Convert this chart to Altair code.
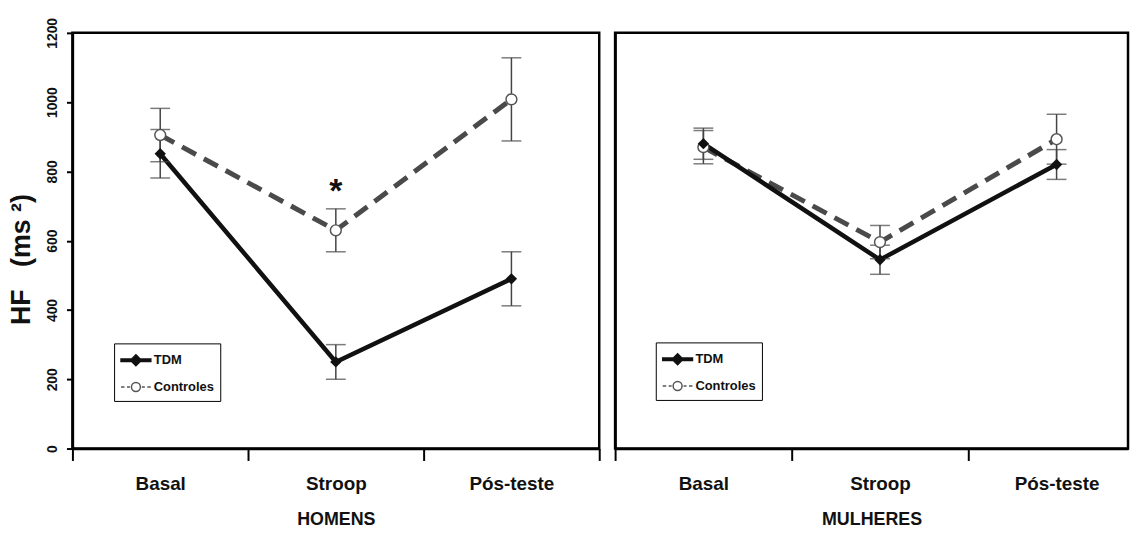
import json

import altair as alt
import pandas as pd

FONT = "Liberation Sans"

phases = ["Basal", "Stroop", "Pós-teste"]
groups = ["TDM", "Controles"]
panels = ["HOMENS", "MULHERES"]

# HF (ms²): mean and error per phase
homens_tdm = [851, 250, 490]
homens_tdm_err = [70, 50, 78]
homens_ctrl = [905, 630, 1008]
homens_ctrl_err = [77, 62, 120]
mulheres_tdm = [880, 545, 820]
mulheres_tdm_err = [45, 42, 43]
mulheres_ctrl = [870, 596, 893]
mulheres_ctrl_err = [48, 48, 72]

# significance markers: (panel, phase, group, symbol)
significance = [("HOMENS", "Stroop", "Controles", "*")]

series = {
    ("HOMENS", "TDM"): (homens_tdm, homens_tdm_err),
    ("HOMENS", "Controles"): (homens_ctrl, homens_ctrl_err),
    ("MULHERES", "TDM"): (mulheres_tdm, mulheres_tdm_err),
    ("MULHERES", "Controles"): (mulheres_ctrl, mulheres_ctrl_err),
}

rows = []
for (panel_name, group), (means, errs) in series.items():
    for i, (phase, m, e) in enumerate(zip(phases, means, errs)):
        rows.append({
            "panel": panel_name, "group": group, "phase": phase,
            "pos": i + 0.5, "value": m, "lo": m - e, "hi": m + e,
        })
data = pd.DataFrame(rows)

marks = []
for panel_name, phase, group, symbol in significance:
    r = data[(data.panel == panel_name) & (data.phase == phase) & (data.group == group)].iloc[0]
    marks.append({"panel": panel_name, "pos": r.pos, "hi": r.hi, "mark": symbol})
marks = pd.DataFrame(marks)

# legend glyphs: line + marker, drawn as custom symbol paths
tdm_glyph = "M-1,-0.13L2,-0.13L2,0.13L-1,0.13Z M0.5,-0.55L1.05,0L0.5,0.55L-0.05,0Z"
ctrl_glyph = ("M-1,0L-0.65,0 M-0.4,0L-0.1,0 M1.1,0L1.4,0 M1.65,0L2,0 "
              "M0.95,0A0.45,0.45,0,1,1,0.05,0A0.45,0.45,0,1,1,0.95,0Z")

label_expr = json.dumps(phases, ensure_ascii=False) + "[datum.value] || ''"

# non-breaking spaces keep the gaps in the SVG title
NBSP = "\u00a0"
Y_TITLE = f"HF{NBSP * 3}(ms{NBSP}²)"

HEIGHT = 419
BAND_LEFT = 531 / 3
WIDTHS = {"HOMENS": 531, "MULHERES": 517}
BAND = {"HOMENS": BAND_LEFT, "MULHERES": 178}
LEGEND_POS = {"HOMENS": (42, 313), "MULHERES": (41, 312)}


def panel(name, first):
    df = data[data.panel == name]
    width = WIDTHS[name]
    band = BAND[name]
    xmax = width / band
    ticks = [v for v in [0, 1, 2, 3] if v <= xmax + 1e-9]
    last = len(phases)

    x_axis = alt.Axis(
        values=ticks, labelExpr=label_expr,
        # phase names sit mid-band; the closing tick keeps its (empty) label on the tick
        labelOffset={"condition": {"test": f"datum.value >= {last}", "value": 0}, "value": band / 2},
        labelFlush=False, labelOverlap=False, labelBound=False,
        tickSize=12, labelPadding=14, labelFontSize=19, labelFontWeight="bold",
        titleFontSize=18, titleFontWeight="bold", titlePadding=18,
    )
    x = alt.X("pos:Q", scale=alt.Scale(domain=[0, xmax], nice=False, zero=False),
              axis=x_axis, title=name)

    if first:
        y_axis = alt.Axis(
            values=list(range(0, 1201, 200)), format="d", tickSize=6, labelAngle=270,
            labelAlign="center", labelBaseline="bottom", labelPadding=7,
            labelFontSize=14, labelFontWeight="bold",
            titleFontSize=27, titleFontWeight="bold", titlePadding=10, titleY=228,
        )
        y_title = Y_TITLE
    else:
        y_axis = alt.Axis(labels=False, ticks=False)
        y_title = None

    def y(field):
        return alt.Y(f"{field}:Q", scale=alt.Scale(domain=[0, 1200], nice=False),
                     axis=y_axis, title=y_title)

    base = alt.Chart(df)
    lx, ly = LEGEND_POS[name]
    legend = alt.Legend(
        orient="none", legendX=lx, legendY=ly, title=None,
        symbolSize=400, symbolStrokeWidth=1.5, symbolOpacity=1,
        labelFont=FONT, labelFontSize=13, labelFontWeight="bold", labelColor="#111",
        labelOffset=12, rowPadding=7, padding=6,
        strokeColor="black", fillColor="white",
    )
    key = base.mark_point(opacity=0).encode(
        x=x, y=y("value"),
        shape=alt.Shape("group:N", scale=alt.Scale(domain=groups, range=[tdm_glyph, ctrl_glyph]), legend=legend),
        fill=alt.Fill("group:N", scale=alt.Scale(domain=groups, range=["#111111", "white"]), legend=legend),
        stroke=alt.Stroke("group:N", scale=alt.Scale(domain=groups, range=["#111111", "#555555"]), legend=legend),
    )

    line_ctrl = base.transform_filter(alt.datum.group == "Controles").mark_line(
        color="#4a4a4a", strokeWidth=5, strokeDash=[16, 9]
    ).encode(x=x, y=y("value"), order="pos:Q")
    line_tdm = base.transform_filter(alt.datum.group == "TDM").mark_line(
        color="#111111", strokeWidth=4.5
    ).encode(x=x, y=y("value"), order="pos:Q")

    bars = base.mark_rule(color="#444444", strokeWidth=1.5).encode(x=x, y=y("lo"), y2="hi:Q")
    caps = base.transform_fold(["lo", "hi"], as_=["end", "cap"]).mark_tick(
        orient="horizontal", size=20, thickness=1.5, color="#444444"
    ).encode(x=x, y=y("cap"))

    pts_ctrl = base.transform_filter(alt.datum.group == "Controles").mark_point(
        shape="circle", size=120, filled=True, fill="white", stroke="#555555",
        strokeWidth=1.5, opacity=1
    ).encode(x=x, y=y("value"))
    pts_tdm = base.transform_filter(alt.datum.group == "TDM").mark_point(
        shape="diamond", size=130, filled=True, color="#111111", opacity=1
    ).encode(x=x, y=y("value"))

    layers = [key, line_ctrl, line_tdm, bars, caps, pts_ctrl, pts_tdm]

    m = marks[marks.panel == name]
    if len(m):
        stars = alt.Chart(m).mark_text(
            font=FONT, fontSize=34, fontWeight="bold", baseline="bottom", color="#111111"
        ).encode(x=x, y=y("hi"), text="mark:N")
        layers.append(stars)

    return alt.layer(*layers).properties(width=width, height=HEIGHT)


chart = (
    alt.hconcat(panel("HOMENS", True), panel("MULHERES", False), spacing=10)
    .resolve_scale(shape="independent", fill="independent", stroke="independent", x="independent")
    .properties(padding={"left": 6, "top": 14, "right": 0, "bottom": 0}, background="white")
    .configure_view(stroke="black", strokeWidth=2.5)
    .configure_axis(
        grid=False, domainColor="black", domainWidth=2.5, tickColor="black", tickWidth=2,
        labelFont=FONT, titleFont=FONT, labelColor="#111111", titleColor="#111111",
    )
)

chart.save("out.html", embed_options={"renderer": "svg", "actions": False})
